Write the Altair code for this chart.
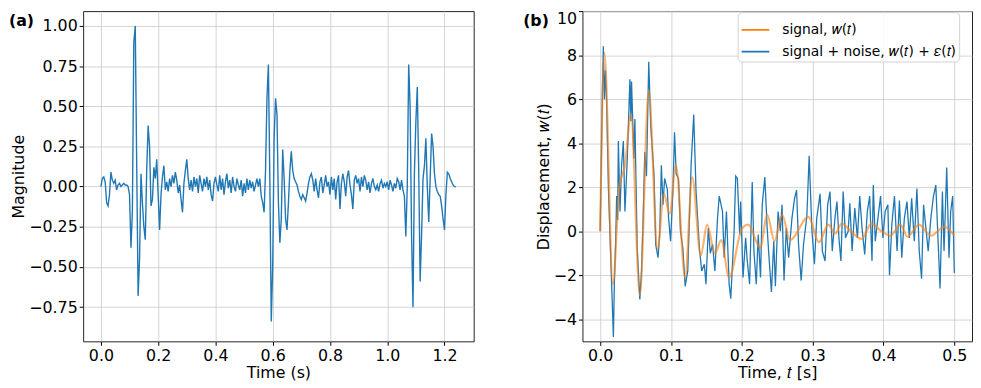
import altair as alt
import pandas as pd

# ---------------- Panel (a): magnitude vs time ----------------
mag_t0 = 0.0
mag_dt = 0.005
mag_values = [
    0.00, 0.05, 0.06, 0.03, -0.10, -0.12, -0.05, 0.09, 0.04, 0.02, 0.04, -0.02, 0.01, 0.02, 0.00, 0.01, 0.02, 0.01, 0.01, 0.00,
    -0.05, -0.38, -0.15, 0.90, 1.00, 0.15, -0.68, -0.45, 0.08, -0.10, -0.25, -0.33, 0.10, 0.38, 0.25, -0.12, -0.08, 0.12, 0.05, 0.17,
    -0.05, -0.27, -0.05, 0.06, 0.13, -0.02, 0.03, -0.03, 0.05, 0.00, 0.07, 0.02, 0.09, 0.04, -0.04, 0.01, -0.08, -0.16, 0.02, 0.10,
    0.17, 0.05, -0.02, 0.04, -0.03, 0.06, 0.00, 0.05, -0.04, 0.07, 0.02, -0.03, 0.05, 0.00, 0.06, -0.02, 0.04, -0.05, -0.09, 0.02,
    0.06, 0.01, -0.03, 0.07, -0.02, 0.05, -0.05, 0.03, 0.08, -0.01, 0.04, -0.04, 0.06, 0.00, -0.03, 0.05, 0.01, -0.02, 0.04, -0.06,
    0.02, -0.04, 0.05, -0.02, 0.04, -0.01, 0.03, -0.03, 0.01, 0.05, 0.00, 0.05, -0.06, -0.10, -0.16, 0.10, 0.55, 0.76, 0.05, -0.84,
    -0.50, 0.30, 0.55, 0.45, -0.10, -0.35, -0.20, 0.23, 0.05, -0.20, -0.27, -0.10, 0.10, 0.22, 0.10, 0.05, 0.03, 0.01, -0.03, -0.06,
    -0.08, -0.05, -0.07, -0.09, -0.04, 0.02, 0.06, 0.08, 0.04, -0.03, 0.05, -0.02, -0.07, 0.03, 0.06, -0.04, 0.01, 0.07, 0.00, 0.03,
    -0.05, 0.06, -0.02, 0.05, -0.08, 0.03, 0.07, -0.14, 0.02, 0.08, 0.03, -0.06, 0.06, 0.10, 0.01, -0.05, -0.14, 0.04, 0.07, 0.02,
    0.05, -0.03, 0.06, 0.00, 0.07, 0.04, -0.02, 0.03, -0.04, 0.02, 0.05, 0.00, -0.02, 0.01, -0.03, 0.02, 0.04, -0.01, 0.02, 0.00,
    0.03, -0.02, 0.04, 0.01, -0.03, 0.02, -0.01, 0.05, 0.03, -0.02, 0.04, -0.02, -0.06, -0.31, 0.00, 0.76, 0.50, -0.30, -0.75, 0.09,
    0.40, 0.62, 0.10, -0.59, -0.30, 0.05, 0.13, 0.30, 0.00, -0.22, 0.05, 0.33, 0.25, 0.08, 0.00, -0.03, -0.05, -0.06, -0.12, -0.20,
    -0.27, -0.05, 0.09, 0.08, 0.05, 0.03, 0.01, 0.00, 0.00,
]

# ---------------- Panel (b): displacement ----------------
noisy_t = [
    0.0, 0.003, 0.0045, 0.006, 0.0075, 0.009, 0.0117, 0.0163, 0.0187, 0.0201,
    0.0219, 0.0233, 0.0247, 0.0257, 0.0280, 0.0303, 0.0327, 0.0350, 0.0383, 0.0420,
    0.0434, 0.0443, 0.0476, 0.0490, 0.0523, 0.0560, 0.0584, 0.0607, 0.0630, 0.0654,
    0.0686, 0.0714, 0.0761, 0.0784, 0.0817, 0.0840, 0.0864, 0.0887, 0.0910, 0.0948,
    0.0966, 0.0994, 0.1027, 0.1050, 0.1074, 0.1106, 0.1134, 0.1167, 0.1200, 0.1237,
    0.1284, 0.1321, 0.1354, 0.1401, 0.1433, 0.1471, 0.1494, 0.1527, 0.1555, 0.1587,
    0.1620, 0.1657,
    0.1681, 0.1727, 0.1751, 0.1783, 0.1821, 0.1844, 0.1891, 0.1914, 0.1937, 0.1970,
    0.1984, 0.2017, 0.2054, 0.2077, 0.2110, 0.2147, 0.2171, 0.2204, 0.2232, 0.2264,
    0.2288, 0.2325, 0.2358, 0.2381, 0.2418, 0.2451, 0.2474, 0.2512, 0.2544, 0.2568,
    0.2596, 0.2628, 0.2661, 0.2708, 0.2745, 0.2773, 0.2801, 0.2838, 0.2871, 0.2918,
    0.2951, 0.2988, 0.3025, 0.3058, 0.3105, 0.3137, 0.3175, 0.3212, 0.3245, 0.3277,
    0.3315, 0.3343, 0.3371, 0.3399, 0.3431, 0.3464, 0.3501, 0.3525, 0.3557, 0.3595,
    0.3632, 0.3665, 0.3697, 0.3735, 0.3772, 0.3805, 0.3838, 0.3856, 0.3884, 0.3922,
    0.3959, 0.3992, 0.4024, 0.4062, 0.4085, 0.4118, 0.4155, 0.4192, 0.4225, 0.4258,
    0.4295, 0.4332, 0.4365, 0.4398, 0.4435, 0.4472, 0.4505, 0.4538, 0.4566, 0.4599,
    0.4631, 0.4669, 0.4706, 0.4739, 0.4771, 0.4799, 0.4832, 0.4855, 0.4893, 0.4925,
    0.4949, 0.4977, 0.5000,
]
noisy_w = [
    0.0, 6.0, 8.4, 6.0, 7.3, 6.0, 1.9, -2.5, -4.8, -2.3,
    -0.45, 1.6, 0.5, 4.1, 0.9, 3.0, 4.1, 0.9, 3.3, 6.9,
    5.0, 6.8, 3.3, 5.1, -0.75, -3.1, -1.8, 0.6, 3.6, 2.5,
    7.7, 4.8, 2.5, -0.6, -1.2, -0.15, 3.0, 1.2, 2.4, 1.9,
    0.6, -0.45, 1.8, 4.5, 2.6, 2.4, 0.0, -0.75, -2.5, -1.8,
    3.0, 5.3, 1.8, -0.75, -1.8, -1.5, -2.4, 0.15, -1.0, -0.6,
    -1.8, 0.6,
    1.6, 0.9, -1.2, 0.9, -2.4, -3.06, 0.0, 2.5, 2.4, -0.15,
    1.35, -2.1, -0.3, -1.35, -2.4, 2.24, -0.9, -2.4, -0.15, -2.1,
    1.2, 2.46, 0.15, -1.05, -2.76, -0.45, -2.5, 0.9, 0.0, 1.2,
    -2.24, 0.15, -1.2, 0.6, 1.5, 1.87, -0.6, -2.24, -0.6, 0.67,
    3.43, 0.15, -1.5, 0.6, 1.7, -0.9, -1.35, 1.2, 1.8, -0.9,
    0.6, 1.35, -0.3, -1.35, 1.8, -0.3, 0.0, 1.27, -0.9, 1.05,
    -0.3, 1.6, 0.15, -1.05, 0.9, 1.6, -1.35, 2.1, -0.45, 0.6,
    1.6, -0.3, 0.9, 1.2, -2.0, 0.3, 1.6, -0.9, 1.4, -1.2,
    0.6, 1.35, -0.3, 1.5, -0.45, 1.94, -0.9, -2.16, 1.2, 0.15,
    -0.9, 0.6, 1.6, 2.1, -0.45, -2.6, 1.8, -0.9, 2.9, -1.2,
    0.9, 1.6, -1.9,
]
signal_t = [
    0.0, 0.006, 0.018, 0.027, 0.035, 0.0435, 0.056, 0.0686, 0.081, 0.090,
    0.098, 0.107, 0.120, 0.130, 0.142, 0.151, 0.162, 0.171, 0.182, 0.200,
    0.209, 0.226, 0.236, 0.246, 0.257, 0.268, 0.294, 0.309, 0.322, 0.332,
    0.341, 0.357, 0.369, 0.383, 0.397, 0.410, 0.424, 0.434, 0.450, 0.467,
    0.486, 0.500,
]
signal_w = [
    0.0, 8.1, -2.4, 2.0, 3.0, 5.3, -2.9, 6.4, -0.8, 1.7,
    0.8, 3.0, -2.1, 2.45, -1.1, 0.3, -1.0, -0.4, -2.1, 0.1,
    0.3, -0.75, 0.75, -0.45, 0.75, -0.4, 0.65, -0.5, 0.3, -0.1,
    0.35, -0.1, -0.35, 0.35, 0.0, -0.2, 0.3, -0.25, 0.3, -0.2,
    0.2, -0.2,
]
assert len(noisy_t) == len(noisy_w)
assert len(signal_t) == len(signal_w)

x_ticks_a = [0.0, 0.2, 0.4, 0.6, 0.8, 1.0, 1.2]
y_ticks_a = [-0.75, -0.5, -0.25, 0.0, 0.25, 0.5, 0.75, 1.0]
x_ticks_b = [0.0, 0.1, 0.2, 0.3, 0.4, 0.5]
y_ticks_b = [-4, -2, 0, 2, 4, 6, 8, 10]

SIG = "signal, \U0001D464(\U0001D461)"
NOI = "signal + noise, \U0001D464(\U0001D461) + \U0001D700(\U0001D461)"
BLUE = "#1f77b4"
ORANGE = "#ff7f0e"
FONT = "DejaVu Sans"

df_a = pd.DataFrame({
    "t": [round(mag_t0 + i * mag_dt, 4) for i in range(len(mag_values))],
    "v": mag_values,
})
df_noisy = pd.DataFrame({"t": noisy_t, "w": noisy_w, "series": NOI})
df_sig = pd.DataFrame({"t": signal_t, "w": signal_w, "series": SIG})

H = 334

# ---- panel (a)
xa = alt.X("t:Q", scale=alt.Scale(domain=[-0.062, 1.302], nice=False, zero=False),
           axis=alt.Axis(values=x_ticks_a, format=".1f", title="Time (s)"))
ya = alt.Y("v:Q", scale=alt.Scale(domain=[-0.963, 1.092], nice=False, zero=False),
           axis=alt.Axis(values=y_ticks_a, format=".2f", title="Magnitude"))
line_a = alt.Chart(df_a).mark_line(color=BLUE, strokeWidth=1.4, clip=True).encode(x=xa, y=ya)
lab_a = alt.Chart(pd.DataFrame({"lab": ["(a)"]})).mark_text(
    fontWeight="bold", fontSize=16, font=FONT, align="left", baseline="middle"
).encode(text="lab:N", x=alt.value(-75), y=alt.value(10))
panel_a = alt.layer(line_a, lab_a).properties(width=395, height=H)

# ---- panel (b)
xb = alt.X("t:Q", scale=alt.Scale(domain=[-0.025, 0.525], nice=False, zero=False),
           axis=alt.Axis(values=x_ticks_b, format=".1f", title="Time, \U0001D461 [s]"))
yb = alt.Y("w:Q", scale=alt.Scale(domain=[-5, 10], nice=False, zero=False),
           axis=alt.Axis(values=y_ticks_b, format="d", labelFlush=True,
                         title="Displacement, \U0001D464(\U0001D461)"))
color_b = alt.Color("series:N", scale=alt.Scale(domain=[SIG, NOI], range=[ORANGE, BLUE]),
                    legend=alt.Legend(title=None, orient="none", legendX=157, legendY=1, padding=3,
                                      fillColor="rgba(255,255,255,0.85)", strokeColor="#d0d0d0",
                                      cornerRadius=4, labelFontSize=14, labelFont=FONT,
                                      symbolType="stroke", symbolSize=784, symbolStrokeWidth=1.8,
                                      symbolOpacity=1, labelOffset=12, rowPadding=-3,
                                      labelColor="black", labelLimit=400))
noisy_line = alt.Chart(df_noisy).mark_line(strokeWidth=1.3, clip=True).encode(x=xb, y=yb, color=color_b)
signal_line = alt.Chart(df_sig).mark_line(strokeWidth=2.2, opacity=0.6, interpolate="monotone", clip=True).encode(
    x=xb, y=yb, color=color_b)
lab_b = alt.Chart(pd.DataFrame({"lab": ["(b)"]})).mark_text(
    fontWeight="bold", fontSize=16, font=FONT, align="left", baseline="middle"
).encode(text="lab:N", x=alt.value(-60), y=alt.value(10))
panel_b = alt.layer(noisy_line, signal_line, lab_b).properties(width=394, height=H)

chart = alt.hconcat(panel_a, panel_b, spacing=48).resolve_scale(
    color="independent"
).resolve_legend(
    color="independent"
).properties(
    padding={"left": 0, "top": 0, "right": 0, "bottom": 0}
).configure_view(
    stroke="#222222", strokeWidth=1
).configure_axis(
    labelFont=FONT, titleFont=FONT, labelFontSize=16, titleFontSize=16,
    titleFontWeight="normal", labelColor="black", titleColor="black",
    tickColor="black", tickSize=4, gridColor="#c8c8c8", gridWidth=0.8,
    domain=False, labelPadding=2, titlePadding=2,
)

chart.save("out.html", embed_options={"renderer": "svg", "actions": False})
